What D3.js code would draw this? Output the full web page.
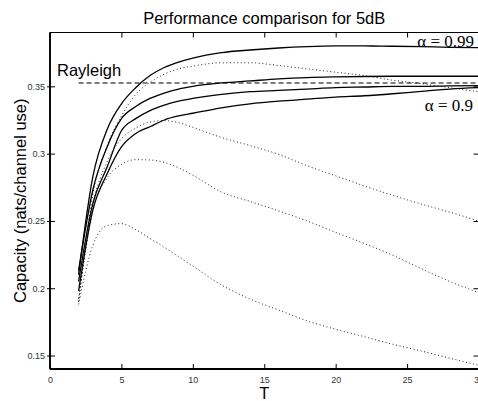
<!DOCTYPE html>
<html>
<head>
<meta charset="utf-8">
<script src="https://cdn.jsdelivr.net/npm/d3@7"></script>
<style>
  body { margin: 0; background: #fff; }
  svg { display: block; }
</style>
</head>
<body>
<svg id="chart" width="478" height="401"></svg>
<script>
// sample points along T
const tVals = [2, 3, 4, 5, 6, 7, 8, 9, 10, 12, 14, 16, 18, 20, 22, 24, 26, 28, 30];

// solid curves (top = alpha 0.99, bottom = alpha 0.9)
const solid99 = [0.21, 0.283, 0.318, 0.337, 0.349, 0.358, 0.364, 0.368, 0.371, 0.375, 0.377, 0.3785, 0.3795, 0.38, 0.38, 0.3798, 0.3795, 0.379, 0.3788];
const solidB = [0.213, 0.273, 0.305, 0.326, 0.335, 0.341, 0.345, 0.348, 0.35, 0.3525, 0.354, 0.3555, 0.3565, 0.357, 0.3573, 0.3575, 0.3575, 0.3575, 0.3575];
const solidC = [0.205, 0.263, 0.29, 0.317, 0.326, 0.332, 0.336, 0.339, 0.341, 0.344, 0.346, 0.347, 0.348, 0.349, 0.3495, 0.35, 0.35, 0.3503, 0.3505];
const solid90 = [0.198, 0.258, 0.285, 0.305, 0.315, 0.32, 0.325, 0.328, 0.33, 0.334, 0.337, 0.339, 0.3405, 0.342, 0.343, 0.3445, 0.3463, 0.348, 0.349];

// dotted curves
const dotted1 = [0.19, 0.27, 0.306, 0.328, 0.344, 0.353, 0.359, 0.363, 0.365, 0.3675, 0.3675, 0.3655, 0.363, 0.3605, 0.358, 0.3545, 0.352, 0.349, 0.346];
const dotted2 = [0.192, 0.262, 0.294, 0.311, 0.319, 0.3235, 0.3245, 0.323, 0.3195, 0.312, 0.306, 0.2995, 0.291, 0.2835, 0.276, 0.269, 0.2625, 0.2565, 0.25];
const dotted3 = [0.19, 0.258, 0.282, 0.292, 0.2955, 0.2953, 0.2935, 0.2895, 0.284, 0.2715, 0.2645, 0.2575, 0.25, 0.2415, 0.2333, 0.2245, 0.2145, 0.205, 0.1968];
const dotted4 = [0.188, 0.232, 0.2465, 0.248, 0.2435, 0.237, 0.2305, 0.2235, 0.2165, 0.2025, 0.192, 0.1838, 0.1758, 0.1695, 0.164, 0.1584, 0.1534, 0.148, 0.1428];

const rayleigh = 0.3525;

const xTicks = [0, 5, 10, 15, 20, 25, 30];
const yTicks = [0.15, 0.2, 0.25, 0.3, 0.35];

const svg = d3.select("#chart");
const mLeft = 50, mRight = 478.5, mTop = 32.5, mBottom = 369;

const x = d3.scaleLinear().domain([0, 30]).range([mLeft, mRight]);
const y = d3.scaleLinear().domain([0.14, 0.39]).range([mBottom, mTop]);

const sans = "'Liberation Sans', Arial, Helvetica, sans-serif";
const serif = "'Liberation Serif', 'Times New Roman', serif";

// curves
const line = d3.line()
  .x((d) => x(d[0]))
  .y((d) => y(d[1]))
  .curve(d3.curveMonotoneX);

const toPts = (vals) => tVals.map((t, i) => [t, vals[i]]);

const g = svg.append("g");

[dotted1, dotted2, dotted3, dotted4].forEach((vals) => {
  g.append("path")
    .attr("d", line(toPts(vals)))
    .attr("fill", "none")
    .attr("stroke", "#222")
    .attr("stroke-width", 1)
    .attr("stroke-dasharray", "1,2.6");
});

g.append("line")
  .attr("x1", x(2)).attr("x2", x(30))
  .attr("y1", y(rayleigh)).attr("y2", y(rayleigh))
  .attr("stroke", "#000")
  .attr("stroke-width", 1.2)
  .attr("stroke-dasharray", "5,3");

[solid99, solidB, solidC, solid90].forEach((vals) => {
  g.append("path")
    .attr("d", line(toPts(vals)))
    .attr("fill", "none")
    .attr("stroke", "#000")
    .attr("stroke-width", 1.3);
});

// axes box
svg.append("rect")
  .attr("x", mLeft).attr("y", mTop)
  .attr("width", mRight - mLeft).attr("height", mBottom - mTop)
  .attr("fill", "none")
  .attr("stroke", "#000")
  .attr("stroke-width", 1);
svg.append("line").attr("x1", mLeft).attr("x2", mRight).attr("y1", mBottom).attr("y2", mBottom)
  .attr("stroke", "#000").attr("stroke-width", 1.8);
svg.append("line").attr("x1", mLeft).attr("x2", mLeft).attr("y1", mTop).attr("y2", mBottom)
  .attr("stroke", "#000").attr("stroke-width", 1.8);

// bottom axis
const xAxis = svg.append("g")
  .attr("transform", `translate(0,${mBottom})`)
  .call(d3.axisBottom(x).tickValues(xTicks).tickSize(-5).tickPadding(8).tickFormat(d3.format("d")));
xAxis.select(".domain").remove();
xAxis.selectAll("text").attr("font-family", sans).attr("font-size", 9).attr("fill", "#333");

// top ticks
const xTop = svg.append("g")
  .attr("transform", `translate(0,${mTop})`)
  .call(d3.axisTop(x).tickValues(xTicks).tickSize(-5).tickFormat(""));
xTop.select(".domain").remove();

// left axis
const yAxis = svg.append("g")
  .attr("transform", `translate(${mLeft},0)`)
  .call(d3.axisLeft(y).tickValues(yTicks).tickSize(3).tickPadding(2).tickFormat((d) => d3.format(".2~f")(d)));
yAxis.select(".domain").remove();
yAxis.selectAll(".tick line").attr("x2", -3).attr("x1", 5);
yAxis.selectAll("text").attr("font-family", sans).attr("font-size", 9).attr("fill", "#333");

// right ticks
const yRight = svg.append("g")
  .attr("transform", `translate(${mRight},0)`)
  .call(d3.axisRight(y).tickValues(yTicks).tickSize(-5).tickFormat(""));
yRight.select(".domain").remove();

// title and axis labels
svg.append("text")
  .attr("x", (mLeft + mRight) / 2).attr("y", 24)
  .attr("text-anchor", "middle")
  .attr("font-family", sans).attr("font-size", 16.5)
  .text("Performance comparison for 5dB");

svg.append("text")
  .attr("x", (mLeft + mRight) / 2).attr("y", 399)
  .attr("text-anchor", "middle")
  .attr("font-family", sans).attr("font-size", 16.5)
  .text("T");

svg.append("text")
  .attr("transform", `translate(26,${(mTop + mBottom) / 2}) rotate(-90)`)
  .attr("text-anchor", "middle")
  .attr("font-family", sans).attr("font-size", 16.5)
  .text("Capacity (nats/channel use)");

// annotations
svg.append("text")
  .attr("x", 57).attr("y", 76)
  .attr("font-family", sans).attr("font-size", 16.5)
  .text("Rayleigh");

svg.append("text")
  .attr("x", 474).attr("y", 47)
  .attr("text-anchor", "end")
  .attr("font-family", serif).attr("font-size", 17)
  .text("\u03b1 = 0.99");

svg.append("text")
  .attr("x", 473).attr("y", 111)
  .attr("text-anchor", "end")
  .attr("font-family", serif).attr("font-size", 17)
  .text("\u03b1 = 0.9");
</script>
</body>
</html>
